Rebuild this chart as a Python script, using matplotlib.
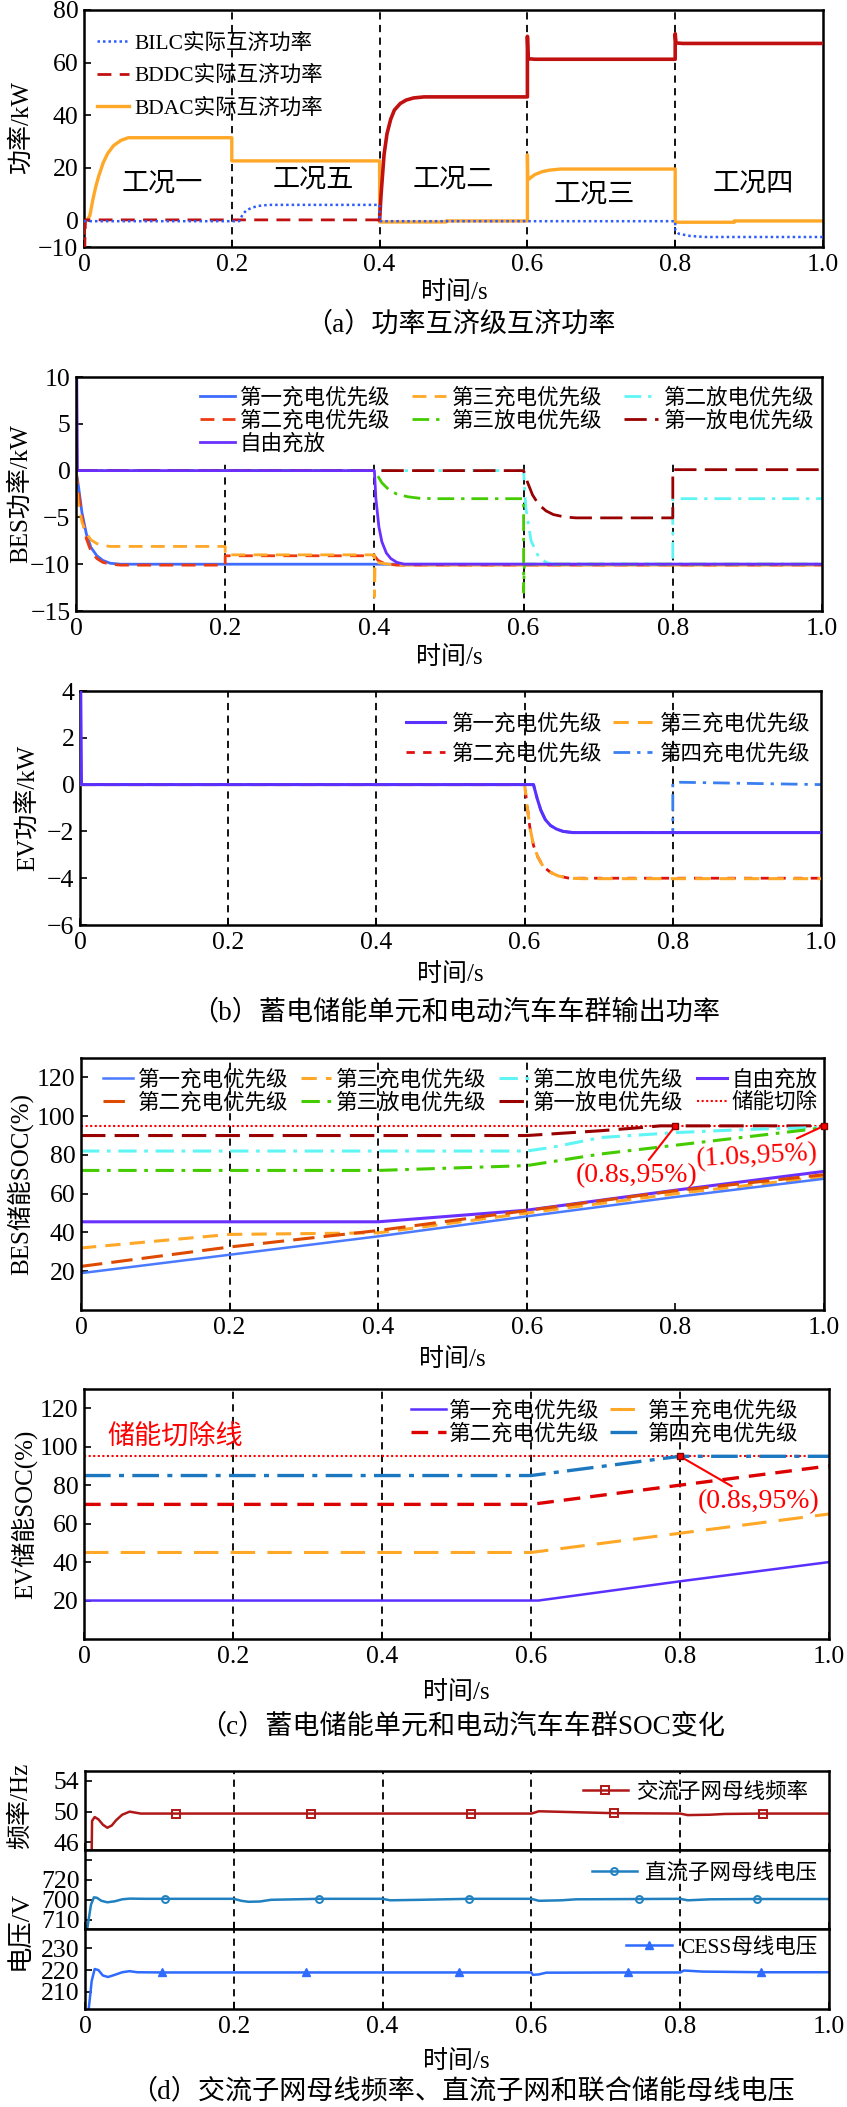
import numpy as np
import matplotlib
matplotlib.use("Agg")
import matplotlib.pyplot as plt

plt.rcParams['font.family'] = ['Liberation Serif', 'Noto Sans CJK SC']
plt.rcParams['axes.unicode_minus'] = True

W, H = 847, 2107

# ---------------- (a) 功率互济级互济功率 ----------------
t_bilc = [0, 0.2, 0.21, 0.215, 0.22, 0.228, 0.236, 0.25, 0.4, 0.4, 0.8, 0.8, 0.805, 0.82, 0.84, 1.0]
p_bilc = [-0.2, -0.2, -0.2, 2.5, 4, 5, 5.6, 6, 6, -0.2, -0.2, -3.5, -5, -5.8, -6.2, -6.2]
t_bddc = [0, 0.001, 0.002, 0.4, 0.402, 0.406, 0.41, 0.415, 0.42, 0.428, 0.436, 0.446, 0.46,
          0.6, 0.6, 0.601, 0.61, 0.8, 0.8, 0.801, 0.81, 1.0]
p_bddc = [0, -10, 0.3, 0.3, 10, 25, 33, 38.5, 42, 44.5, 45.8, 46.6, 47,
          47, 70, 61.5, 61.3, 61.3, 71, 67.5, 67.3, 67.3]
t_bdac = [0, 0.004, 0.008, 0.012, 0.016, 0.02, 0.026, 0.032, 0.04, 0.05, 0.06, 0.2, 0.2, 0.4, 0.4,
          0.49, 0.49, 0.6, 0.6, 0.6005, 0.61, 0.62, 0.63, 0.645, 0.8, 0.8, 0.88, 0.88, 1.0]
p_bdac = [0, 0, 2, 8, 13, 17, 22, 25.5, 28.5, 30.5, 31.5, 31.5, 22.7, 22.7, -0.5,
          -0.5, -0.1, -0.1, 25, 15.5, 17.5, 18.6, 19.2, 19.6, 19.6, -0.6, -0.6, -0.1, -0.1]
case_names = ['工况一', '工况五', '工况二', '工况三', '工况四']
case_t = [0.106, 0.31, 0.5, 0.69, 0.905]
case_p = [14, 15.4, 15.4, 9.6, 14]

# ---------------- (b) BES 功率 ----------------
tb_ch1 = [0, 0.003, 0.008, 0.014, 0.02, 0.028, 0.036, 0.046, 0.06, 1.0]
pb_ch1 = [0, -1.5, -4.5, -6.8, -8.2, -9.1, -9.6, -9.9, -10, -10]
tb_ch2 = [0, 0.003, 0.008, 0.014, 0.02, 0.028, 0.036, 0.046, 0.06, 0.2, 0.2, 0.4, 0.405, 0.41, 0.42, 0.43, 0.44, 1.0]
pb_ch2 = [0, -2, -5, -7.3, -8.6, -9.4, -9.8, -10, -10.1, -10.1, -9.1, -9.1, -9.6, -9.8, -10, -10.1, -10.1, -10.1]
tb_ch3 = [0, 0.003, 0.008, 0.014, 0.02, 0.028, 0.036, 0.046, 0.06, 0.2, 0.2, 0.4, 0.4, 0.401, 0.41, 0.42, 0.43, 1.0]
pb_ch3 = [0, -3.5, -5.5, -6.7, -7.4, -7.8, -8, -8.1, -8.1, -8.1, -9, -9, -13.5, -9.8, -9.9, -10, -10.1, -10.1]
tb_dis2 = [0, 0.6, 0.603, 0.61, 0.62, 0.63, 0.64, 0.8, 0.8, 1.0]
pb_dis2 = [0, 0, -4, -7.5, -9.2, -9.8, -10, -10, -3, -3]
tb_dis3 = [0, 0.4, 0.404, 0.41, 0.42, 0.43, 0.445, 0.46, 0.48, 0.6, 0.6, 0.601, 1.0]
pb_dis3 = [0, 0, -0.5, -1.3, -2.1, -2.5, -2.8, -2.95, -3, -3, -13, -10, -10]
tb_dis1 = [0, 0.6, 0.605, 0.612, 0.62, 0.63, 0.64, 0.655, 0.67, 0.8, 0.8, 1.0]
pb_dis1 = [0, 0, -1.2, -2.6, -3.6, -4.3, -4.7, -4.95, -5.05, -5.05, 0.1, 0.1]
tb_free = [0, 0.001, 0.002, 0.4, 0.402, 0.406, 0.41, 0.416, 0.422, 0.43, 0.44, 0.455, 1.0]
pb_free = [10, 10, 0, 0, -3, -6, -7.6, -8.8, -9.4, -9.8, -10, -10, -10]

# ---------------- (b) EV 功率 ----------------
te_1 = [0, 0.001, 0.002, 0.612, 0.617, 0.622, 0.628, 0.635, 0.643, 0.652, 0.665, 1.0]
pe_1 = [4, 4, 0, 0, -0.6, -1.1, -1.5, -1.75, -1.9, -2.0, -2.05, -2.05]
te_3 = [0, 0.6, 0.603, 0.607, 0.612, 0.618, 0.625, 0.635, 0.645, 0.66, 0.68, 1.0]
pe_3 = [0, 0, -0.8, -1.8, -2.6, -3.1, -3.5, -3.75, -3.9, -4.0, -4.02, -4.02]
te_2 = [0, 0.6, 0.603, 0.607, 0.612, 0.618, 0.625, 0.635, 0.645, 0.66, 0.68, 1.0]
pe_2 = [0, 0, -0.8, -1.8, -2.6, -3.1, -3.5, -3.75, -3.9, -4.0, -4.0, -4.0]
te_4 = [0, 0.612, 0.617, 0.622, 0.628, 0.635, 0.643, 0.652, 0.665, 0.8, 0.8, 0.81, 1.0]
pe_4 = [0, 0, -0.6, -1.1, -1.5, -1.75, -1.9, -2.0, -2.05, -2.05, 0.05, 0.1, 0.0]

# ---------------- (c) BES SOC ----------------
ts_cut = [0, 1.0]
s_cut = [95, 95]
ts_dis1 = [0, 0.6, 0.64, 0.7, 0.75, 0.78, 1.0]
s_dis1 = [90, 90, 91, 92.5, 94, 95, 95]
ts_dis2 = [0, 0.6, 0.635, 0.7, 0.8, 0.9, 1.0]
s_dis2 = [82, 82, 84, 89, 91.5, 93.2, 94.2]
ts_dis3 = [0, 0.4, 0.6, 0.7, 0.8, 0.9, 1.0]
s_dis3 = [72, 72, 74.5, 80.5, 85, 89.5, 94]
ts_free = [0, 0.4, 0.6, 0.8, 1.0]
s_free = [45.5, 45.5, 51.5, 61.8, 71.5]
ts_ch = [0, 0.2, 0.4, 0.6, 0.8, 1.0]
s_ch1 = [19, 28.5, 38, 48.3, 58.3, 67.7]
s_ch2 = [22.5, 32.5, 41, 51.3, 61.5, 69.8]
s_ch3 = [32, 39, 39.8, 50, 60, 68.8]

# ---------------- (c) EV SOC ----------------
tv = [0, 0.6, 0.8, 1.0]
tv_1 = [0, 0.61, 0.8, 1.0]
sv_4 = [85, 85, 95, 95]
sv_2 = [70, 70, 80, 90]
sv_3 = [45, 45, 55, 65]
sv_1 = [20, 20, 30, 40]

# ---------------- (d) 母线频率 / 电压 ----------------
t_freq = [0.009, 0.0095, 0.013, 0.018, 0.024, 0.03, 0.036, 0.042, 0.05, 0.06, 0.075, 0.122, 0.2, 0.304,
          0.4, 0.519, 0.6, 0.61, 0.65, 0.711, 0.8, 0.81, 0.84, 0.86, 0.911, 1.0]
v_freq = [45.0, 48.8, 49.3, 49.0, 48.3, 47.9, 48.2, 48.9, 49.6, 50.0, 49.75, 49.75, 49.75, 49.75,
          49.75, 49.75, 49.75, 50.05, 49.95, 49.8, 49.75, 49.55, 49.6, 49.7, 49.75, 49.75]
mk_freq = [0.122, 0.304, 0.519, 0.711, 0.911]
t_dc = [0.003, 0.008, 0.012, 0.016, 0.022, 0.03, 0.04, 0.05, 0.06, 0.08, 0.108, 0.2, 0.21, 0.22, 0.235,
        0.25, 0.315, 0.4, 0.41, 0.45, 0.516, 0.6, 0.61, 0.64, 0.66, 0.745, 0.8, 0.81, 0.84, 0.903, 1.0]
v_dc = [671, 695, 702.5, 702, 699, 697.5, 698.5, 700.5, 701.2, 701, 701, 701, 699, 698, 698.3,
        700, 701, 701, 699.5, 700, 701, 701, 699, 699.5, 700.5, 700.8, 701, 699.5, 700.5, 700.8, 700.8]
mk_dc = [0.108, 0.315, 0.516, 0.745, 0.903]
t_cess = [0.005, 0.009, 0.013, 0.018, 0.024, 0.031, 0.04, 0.05, 0.06, 0.07, 0.103, 0.297, 0.503,
          0.6, 0.602, 0.61, 0.62, 0.73, 0.8, 0.805, 0.83, 0.909, 1.0]
v_cess = [202, 215, 220.5, 220, 217.5, 216.8, 217.8, 219, 219.5, 219, 218.9, 218.9, 218.9,
          218.9, 217.8, 218.0, 218.8, 218.9, 218.9, 219.8, 219.3, 219, 219]
mk_cess = [0.103, 0.297, 0.503, 0.73, 0.909]

xt = [0, 0.2, 0.4, 0.6, 0.8, 1.0]
xt_lab = ['0', '0.2', '0.4', '0.6', '0.8', '1.0']

C_BLUE = '#3f6bff'
C_RED2 = '#ee3a10'
C_ORANGE = '#ffa726'
C_CYAN = '#5ff5f5'
C_GREEN = '#44cc00'
C_DRED = '#990000'
C_PURPLE = '#6a30ff'

DASH = (0, (5, 3))
DASHDOT = (0, (6, 2.5, 1.2, 2.5))
DOT = (0, (1, 1.2))

TICK = 18.5
LEG = 15.5
LAB = 18
CAP = 19.5

fig = plt.figure(figsize=(W / 100, H / 100), dpi=100)


def add_ax(x0, y0, x1, y1):
    ax = fig.add_axes([x0 / W, 1 - y1 / H, (x1 - x0) / W, (y1 - y0) / H])
    for s in ax.spines.values():
        s.set_linewidth(1.8)
    ax.tick_params(direction='in', labelsize=TICK, width=1.2, length=5)
    ax.tick_params(axis='y', pad=4)
    ax.tick_params(axis='x', pad=5)
    ax.set_xlim(0, 1)
    ax.set_xticks(xt)
    ax.set_xticklabels(xt_lab)
    return ax


def ftext(x, y, s, size, **kw):
    fig.text(x / W, 1 - y / H, s, fontsize=size, ha='center', va='center', **kw)


def vlines(ax, xs, ymax=1.0):
    for x in xs:
        ax.axvline(x, ymin=0, ymax=ymax, color='k', ls=(0, (4, 3)), lw=1.3, zorder=1)


# ---- (a)
ax = add_ax(84, 10, 823, 247)
ax.set_ylim(-10, 80)
ax.set_yticks([-10, 0, 20, 40, 60, 80])
vlines(ax, [0.2, 0.4, 0.6, 0.8])
tb = np.array(t_bddc)
pb = np.array(p_bddc)
ax.plot(t_bilc, p_bilc, color='#2f5cff', ls=DOT, lw=1.8, label='BILC实际互济功率', zorder=4)
ax.plot(tb[tb <= 0.4], pb[tb <= 0.4], color='#c01010', ls=DASH, lw=2, label='BDDC实际互济功率', zorder=3)
ax.plot(tb[tb >= 0.4], pb[tb >= 0.4], color='#c01010', lw=2.6, zorder=3)
ax.plot(t_bdac, p_bdac, color=C_ORANGE, lw=2.4, label='BDAC实际互济功率', zorder=2)
for name, x, y in zip(case_names, case_t, case_p):
    ax.text(x, y, name, fontsize=19.5, ha='center', va='center')
ax.legend(loc='upper left', bbox_to_anchor=(0.0, 0.955), frameon=False, fontsize=LEG, handlelength=1.5,
          handletextpad=0.25, labelspacing=0.55, borderaxespad=0.2)
ftext(21, 128, '功率/kW', LAB, rotation=90)
ftext(454, 293, '时间/s', LAB)
ftext(460, 325, '（a）功率互济级互济功率', CAP)

# ---- (b) BES
ax = add_ax(76, 377, 822, 611)
ax.set_ylim(-15, 10)
ax.set_yticks([-15, -10, -5, 0, 5, 10])
vlines(ax, [0.2, 0.4, 0.6, 0.8], ymax=0.64)
h_ch1, = ax.plot(tb_ch1, pb_ch1, color=C_BLUE, lw=2, label='第一充电优先级')
h_ch2, = ax.plot(tb_ch2, pb_ch2, color=C_RED2, ls=DASH, lw=2, label='第二充电优先级')
h_ch3, = ax.plot(tb_ch3, pb_ch3, color=C_ORANGE, ls=DASH, lw=2, label='第三充电优先级')
h_dis2, = ax.plot(tb_dis2, pb_dis2, color=C_CYAN, ls=DASHDOT, lw=2, label='第二放电优先级')
h_dis3, = ax.plot(tb_dis3, pb_dis3, color=C_GREEN, ls=DASHDOT, lw=2, label='第三放电优先级')
h_dis1, = ax.plot(tb_dis1, pb_dis1, color=C_DRED, ls=(0, (8, 3)), lw=2, label='第一放电优先级')
h_free, = ax.plot(tb_free, pb_free, color=C_PURPLE, lw=2, label='自由充放')
hs = [h_ch1, h_ch2, h_free, h_ch3, h_dis3, h_dis2, h_dis1]
ax.legend(handles=hs, ncol=3, loc='upper left', bbox_to_anchor=(0.152, 1.0), frameon=False, fontsize=LEG,
          handlelength=1.6, handletextpad=0.25, labelspacing=0.1, columnspacing=1.0, borderaxespad=0.1)
ftext(20, 494, 'BES功率/kW', LAB, rotation=90)
ftext(449, 658, '时间/s', LAB)

# ---- (b) EV
ax = add_ax(80, 691, 821, 925)
ax.set_ylim(-6, 4)
ax.set_yticks([-6, -4, -2, 0, 2, 4])
vlines(ax, [0.2, 0.4, 0.6, 0.8])
g1, = ax.plot(te_1, pe_1, color='#5a30ff', lw=2.2, label='第一充电优先级', zorder=4)
g2, = ax.plot(te_2, pe_2, color='#e01010', ls=(0, (3, 3)), lw=2, label='第二充电优先级', zorder=3)
g3, = ax.plot(te_3, pe_3, color=C_ORANGE, ls=DASH, lw=2.2, label='第三充电优先级', zorder=3)
g4, = ax.plot(te_4, pe_4, color='#3a7ff0', ls=DASHDOT, lw=2, label='第四充电优先级', zorder=2)
ax.legend(handles=[g1, g2, g3, g4], ncol=2, loc='upper right', bbox_to_anchor=(0.997, 0.94), frameon=False,
          fontsize=LEG, handlelength=1.8, handletextpad=0.35, labelspacing=0.45, columnspacing=0.5,
          borderaxespad=0.0)
ftext(27, 808, 'EV功率/kW', LAB, rotation=90)
ftext(450, 975, '时间/s', LAB)
ftext(456, 1012, '（b）蓄电储能单元和电动汽车车群输出功率', CAP)

# ---- (c) BES SOC
ax = add_ax(81, 1058, 824, 1310)
ax.set_ylim(0, 130)
ax.set_yticks([20, 40, 60, 80, 100, 120])
vlines(ax, [0.2, 0.4, 0.6])
k_cut, = ax.plot(ts_cut, s_cut, color='red', ls=DOT, lw=1.5, label='储能切除')
k_dis1, = ax.plot(ts_dis1, s_dis1, color=C_DRED, ls=(0, (8, 3)), lw=2.2, label='第一放电优先级')
k_dis2, = ax.plot(ts_dis2, s_dis2, color=C_CYAN, ls=DASHDOT, lw=2.2, label='第二放电优先级')
k_dis3, = ax.plot(ts_dis3, s_dis3, color=C_GREEN, ls=DASHDOT, lw=2.2, label='第三放电优先级')
k_free, = ax.plot(ts_free, s_free, color=C_PURPLE, lw=2.2, label='自由充放')
k_ch3, = ax.plot(ts_ch, s_ch3, color=C_ORANGE, ls=DASH, lw=2.2, label='第三充电优先级')
k_ch2, = ax.plot(ts_ch, s_ch2, color='#dd4a00', ls=(0, (7, 3)), lw=2.2, label='第二充电优先级')
k_ch1, = ax.plot(ts_ch, s_ch1, color='#4a7aff', lw=1.8, label='第一充电优先级')
ax.plot([0.8, 1.0], [95, 95], ls='none', marker='s', ms=5, color='red', mec='#800000', clip_on=False, zorder=6)
ax.annotate('(0.8s,95%)', xy=(0.8, 95), xytext=(0.748, 69.5), color='red', fontsize=20, ha='center',
            va='center', arrowprops=dict(arrowstyle='-', color='red', lw=1.5, shrinkA=0, shrinkB=0))
ax.annotate('(1.0s,95%)', xy=(1.0, 95), xytext=(0.91, 79), color='red', fontsize=20, ha='center',
            va='center', rotation=3,
            arrowprops=dict(arrowstyle='-', color='red', lw=1.5, shrinkA=0, shrinkB=0))
hs = [k_ch1, k_ch2, k_ch3, k_dis3, k_dis2, k_dis1, k_free, k_cut]
ax.legend(handles=hs, ncol=4, loc='upper left', bbox_to_anchor=(0.014, 1.0), frameon=False, fontsize=LEG,
          handlelength=1.4, handletextpad=0.2, labelspacing=0.1, columnspacing=0.6, borderaxespad=0.15)
ftext(20, 1184, 'BES储能SOC(%)', LAB, rotation=90)
ftext(452, 1360, '时间/s', LAB)

# ---- (c) EV SOC
ax = add_ax(84, 1389, 829, 1639)
ax.set_ylim(0, 130)
ax.set_yticks([20, 40, 60, 80, 100, 120])
vlines(ax, [0.2, 0.4, 0.6, 0.8])
ax.plot(ts_cut, s_cut, color='red', ls=DOT, lw=1.5)
m4, = ax.plot(tv, sv_4, color='#1b78c0', ls=(0, (8, 2.5, 1.5, 2.5)), lw=2.4, label='第四充电优先级')
m2, = ax.plot(tv, sv_2, color='#dd0000', ls=(0, (5, 3)), lw=2.4, label='第二充电优先级')
m3, = ax.plot(tv, sv_3, color=C_ORANGE, ls=(0, (8, 4)), lw=2.2, label='第三充电优先级')
m1, = ax.plot(tv_1, sv_1, color='#5a30ff', lw=1.8, label='第一充电优先级')
ax.plot([0.8], [95], ls='none', marker='s', ms=5, color='red', mec='#800000', zorder=6)
ax.annotate('(0.8s,95%)', xy=(0.8, 95), xytext=(0.905, 71.5), color='red', fontsize=20, ha='center',
            va='center', arrowprops=dict(arrowstyle='-', color='red', lw=1.5, shrinkA=0, shrinkB=0))
ax.text(0.032, 105, '储能切除线', color='red', fontsize=19.5, ha='left', va='center')
ax.legend(handles=[m1, m2, m3, m4], ncol=2, loc='upper right', bbox_to_anchor=(0.975, 1.0), frameon=False,
          fontsize=LEG, handlelength=1.6, handletextpad=0.15, labelspacing=0.1, columnspacing=0.5,
          borderaxespad=0.15)
ftext(24, 1514, 'EV储能SOC(%)', LAB, rotation=90)
ftext(456, 1693, '时间/s', LAB)
ftext(462, 1727, '（c）蓄电储能单元和电动汽车车群SOC变化', CAP)

# ---- (d)
a1 = add_ax(85, 1771, 829, 1850)
a2 = add_ax(85, 1850, 829, 1929)
a3 = add_ax(85, 1929, 829, 2009)
for a in (a1, a2, a3):
    vlines(a, [0.2, 0.4, 0.6, 0.8])
a1.tick_params(labelbottom=False)
a2.tick_params(labelbottom=False)
leg_kw = dict(loc='upper right', frameon=False, fontsize=LEG, handlelength=2.1, handletextpad=0.4,
              numpoints=1, borderaxespad=0.0)

a1.set_ylim(45, 55.3)
a1.set_yticks([46, 50, 54])
me = [t_freq.index(m) for m in mk_freq]
a1.plot(t_freq, v_freq, color='#b01818', lw=1.8, marker='s', ms=6, mfc='none', mew=1.4, markevery=me,
        label='交流子网母线频率')
a1.legend(bbox_to_anchor=(0.984, 0.97), **leg_kw)

a2.set_ylim(670.7, 750)
a2.set_yticks([680, 700, 720, 740])
a2.set_yticklabels(['710', '700', '720', ''])
me = [t_dc.index(m) for m in mk_dc]
a2.plot(t_dc, v_dc, color='#2080c0', lw=1.8, marker='o', ms=5, mfc='none', mew=1.4, markevery=me,
        label='直流子网母线电压')
a2.legend(bbox_to_anchor=(0.996, 0.94), **leg_kw)

a3.set_ylim(202, 239)
a3.set_yticks([210, 220, 230])
me = [t_cess.index(m) for m in mk_cess]
a3.plot(t_cess, v_cess, color='#2f6bff', lw=1.8, marker='^', ms=6, markevery=me, label='CESS母线电压')
a3.legend(bbox_to_anchor=(0.996, 1.0), **leg_kw)

ftext(20, 1806, '频率/Hz', LAB, rotation=90)
ftext(20, 1930, '电压/V', LAB + 1, rotation=90)
ftext(456, 2062, '时间/s', LAB)
ftext(462, 2092, '（d）交流子网母线频率、直流子网和联合储能母线电压', CAP)

fig.savefig('out.png', dpi=100)
